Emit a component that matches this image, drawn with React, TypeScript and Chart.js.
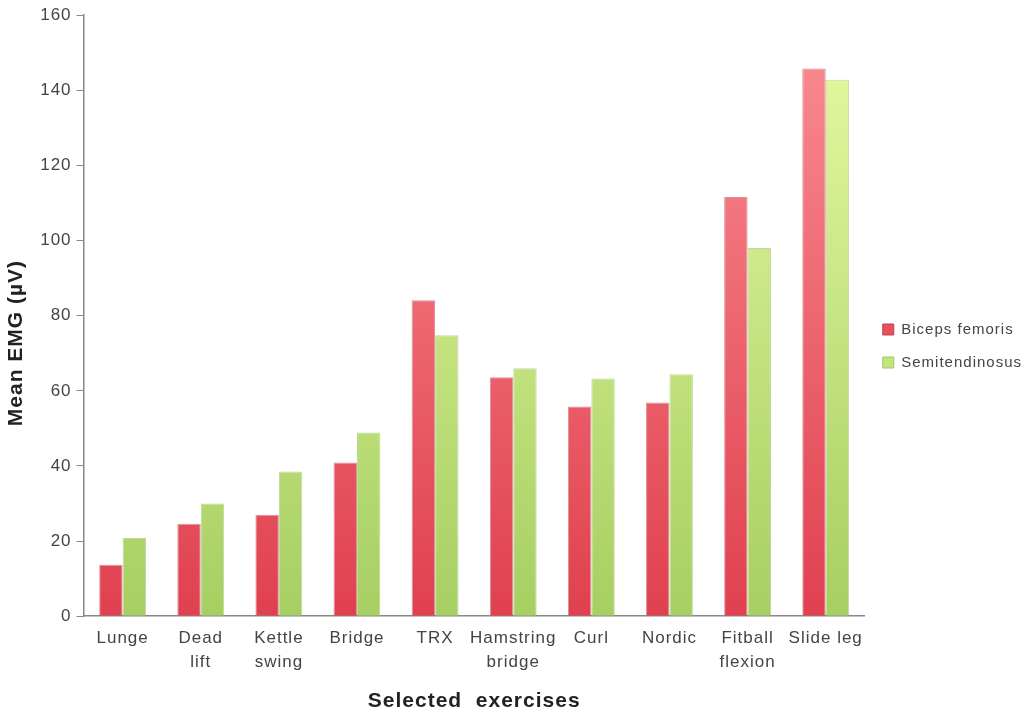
import React, { useEffect, useRef } from "react";
import { Chart, registerables } from "chart.js";

Chart.register(...registerables);

const categories: string[][] = [
  ["Lunge"],
  ["Dead", "lift"],
  ["Kettle", "swing"],
  ["Bridge"],
  ["TRX"],
  ["Hamstring", "bridge"],
  ["Curl"],
  ["Nordic"],
  ["Fitball", "flexion"],
  ["Slide leg"],
];
const bicepsFemoris = [13.7, 24.6, 27.0, 40.9, 84.1, 63.6, 55.8, 56.9, 111.6, 145.8];
const semitendinosus = [20.8, 30.0, 38.5, 48.9, 74.8, 66.0, 63.3, 64.4, 98.0, 142.8];
const yTicks = [0, 20, 40, 60, 80, 100, 120, 140, 160];

function makeGradient(ctx: any, area: any, top: string, bottom: string) {
  const g = ctx.createLinearGradient(0, area.top, 0, area.bottom);
  g.addColorStop(0, top);
  g.addColorStop(1, bottom);
  return g;
}

const spacingPlugin = {
  id: "letterSpacing",
  beforeUpdate(chart: any) {
    chart.ctx.letterSpacing = "1px";
  },
  beforeLayout(chart: any) {
    chart.ctx.letterSpacing = "1px";
  },
  beforeDraw(chart: any) {
    chart.ctx.letterSpacing = "1px";
  },
};

export default function App() {
  const ref = useRef<HTMLCanvasElement | null>(null);
  useEffect(() => {
    if (!ref.current) return;
    const font = "'Liberation Sans', Arial, sans-serif";
    const chart = new Chart(ref.current, {
      type: "bar",
      plugins: [spacingPlugin],
      data: {
        labels: categories,
        datasets: [
          {
            label: "Biceps femoris",
            data: bicepsFemoris,
            backgroundColor: (c: any) => {
              const a = c.chart.chartArea;
              if (!a) return "#f07078";
              return makeGradient(c.chart.ctx, a, "#fa8e92", "#e0404f");
            },
            borderColor: "rgba(190,70,80,0.6)",
            borderWidth: 1,
            categoryPercentage: 0.6,
            barPercentage: 1,
          },
          {
            label: "Semitendinosus",
            data: semitendinosus,
            backgroundColor: (c: any) => {
              const a = c.chart.chartArea;
              if (!a) return "#c8e888";
              return makeGradient(c.chart.ctx, a, "#e8faa2", "#a6cf62");
            },
            borderColor: "rgba(150,190,90,0.6)",
            borderWidth: 1,
            categoryPercentage: 0.6,
            barPercentage: 1,
          },
        ],
      },
      options: {
        animation: false,
        responsive: true,
        maintainAspectRatio: false,
        layout: { padding: { top: 11, right: -8, left: 4, bottom: 4 } },
        plugins: {
          tooltip: { enabled: false },
          legend: {
            position: "right",
            align: "center",
            labels: {
              boxWidth: 11,
              boxHeight: 11,
              padding: 18,
              color: "#444",
              font: { family: font, size: 15 },
              generateLabels: () => [
                { text: "Biceps femoris", fillStyle: "#e8505c", strokeStyle: "#c04050", lineWidth: 1, datasetIndex: 0, fontColor: "#444" },
                { text: "Semitendinosus", fillStyle: "#c2e47c", strokeStyle: "#a0c868", lineWidth: 1, datasetIndex: 1, fontColor: "#444" },
                { text: "", fillStyle: "rgba(0,0,0,0)", strokeStyle: "rgba(0,0,0,0)", lineWidth: 0, fontColor: "rgba(0,0,0,0)" },
              ],
            },
          },
        },
        scales: {
          x: {
            grid: { display: false },
            border: { display: true, color: "#888", width: 1.5 },
            ticks: {
              color: "#444",
              font: { family: font, size: 17, lineHeight: 1.4 },
              maxRotation: 0,
              autoSkip: false,
              padding: 2,
            },
            title: {
              display: true,
              text: "Selected  exercises",
              color: "#222",
              font: { family: font, size: 21, weight: "bold" },
              padding: { top: 13, bottom: 0 },
            },
          },
          y: {
            min: 0,
            max: 160,
            afterBuildTicks: (axis: any) => {
              axis.ticks = yTicks.map((v) => ({ value: v }));
            },
            grid: {
              display: true,
              drawOnChartArea: false,
              drawTicks: true,
              tickLength: 7,
              color: "#888",
            },
            border: { display: true, color: "#888", width: 1.5 },
            ticks: {
              color: "#444",
              font: { family: font, size: 17 },
              padding: 5,
            },
            title: {
              display: true,
              text: "Mean EMG (µV)        ",
              color: "#222",
              font: { family: font, size: 21, weight: "bold" },
              padding: { top: 0, bottom: 6 },
            },
          },
        },
      },
    } as any);
    return () => chart.destroy();
  }, []);
  return (
    <div style={{ position: "fixed", left: 0, top: 0, width: 1024, height: 718, background: "#fff" }}>
      <canvas ref={ref} />
    </div>
  );
}
